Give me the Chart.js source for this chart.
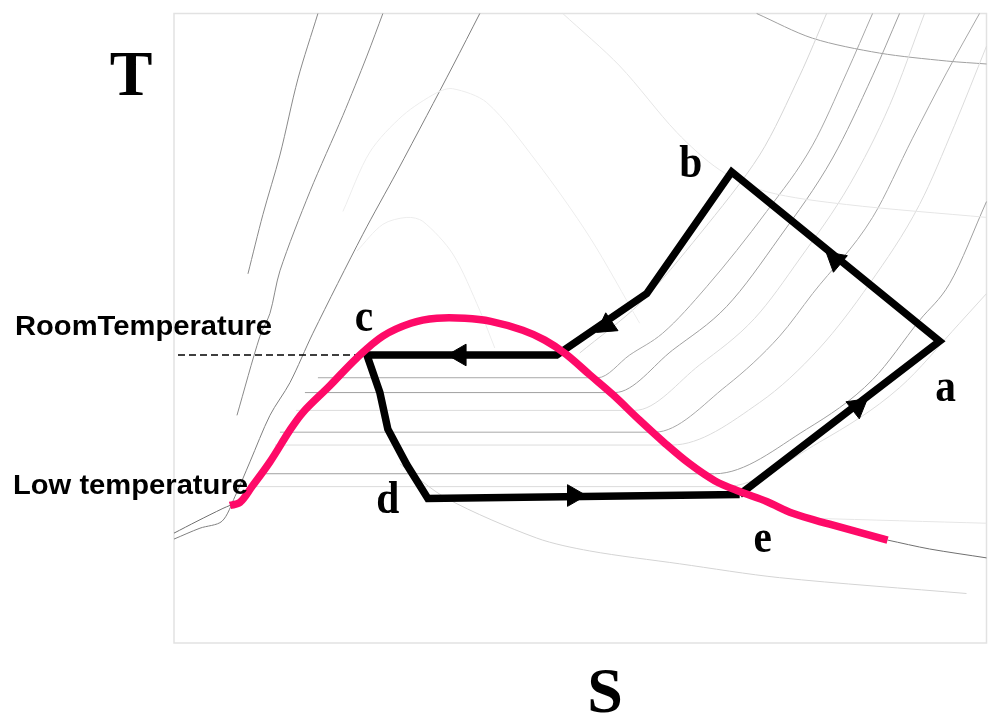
<!DOCTYPE html>
<html>
<head>
<meta charset="utf-8">
<script src="https://cdn.jsdelivr.net/npm/chart.js@4.4.0/dist/chart.umd.min.js"></script>
<style>
  html, body { margin: 0; padding: 0; background: #fff; }
</style>
</head>
<body>
<canvas id="ts-chart" width="1000" height="728"></canvas>
<script>
// T-S diagram of a refrigeration cycle (arbitrary units)
const sMax = 81.3;
const tMax = 63.6;

const roomT = 29.1;  // dashed line level
const lowT = 15.0;   // evaporator level

// refrigerant cycle: e -> a -> b -> c -> d -> e
const cycleS = [56.6, 76.6, 55.8, 47.3, 38.3, 19.3, 20.6, 21.4, 23.3, 25.4, 56.6];
const cycleT = [15.0, 30.5, 47.6, 35.3, 29.1, 29.1, 25.3, 21.6, 18.0, 14.6, 15.0];

const pointNames = ["a", "b", "c", "d", "e"];
const pointS = [76.6, 55.8, 19.3, 25.4, 56.6];
const pointT = [30.5, 47.6, 29.1, 14.6, 15.0];

// arrows on the cycle (position + direction in degrees)
const arrowS = [28.6, 43.3, 66.2, 68.4, 40.0];
const arrowT = [29.1, 32.1, 38.7, 23.9, 14.9];
const arrowDir = [-90, -124.6, -50, 52, 90];

// saturation dome (pink)
const satS = [5.6, 6.6, 7.8, 9.6, 11.6, 12.9, 15.6, 18.3, 20.9, 23.7, 26.3, 29.1, 31.7, 34.9, 37.1, 39.2, 41.6, 43.9, 46.6, 49.1, 51.6, 54.1, 56.6, 59.3, 61.9, 65.6, 71.4];
const satT = [13.9, 14.2, 15.8, 18.3, 21.5, 23.3, 26.0, 28.8, 31.0, 32.3, 32.8, 32.8, 32.5, 31.6, 30.6, 29.2, 27.1, 25.1, 22.5, 20.2, 18.1, 16.4, 15.3, 14.3, 13.1, 12.0, 10.4];

// background chart lines
const liquid1 = [[14.4, 63.6], [12.4, 57.0], [10.6, 49.3], [8.9, 43.3], [7.4, 37.3]];
const liquid2 = [[20.9, 63.6], [19.3, 59.3], [16.9, 53.3], [13.6, 45.6], [10.6, 37.6], [9.6, 33.3], [8.6, 31.0], [6.3, 23.0]];
const liquid3 = [[30.6, 63.6], [27.9, 58.3], [25.3, 53.3], [22.3, 47.6], [18.9, 41.3], [13.9, 31.3], [11.6, 26.3], [9.6, 23.0], [7.6, 18.3], [6.1, 14.8], [4.8, 12.3], [2.6, 11.6], [0, 10.5]];
const liquid4 = [[0, 11.1], [2.3, 12.3], [4.9, 13.6], [5.6, 13.9]];
const vaporTail = [[71.4, 10.4], [75.6, 9.5], [81.3, 8.6]];
const topCurve = [[58.3, 63.6], [63.9, 61.1], [70.6, 59.6], [77.3, 58.8], [81.3, 58.5]];

const isobar1 = [[14.4, 26.8], [42.4, 26.8], [45.6, 29.1], [48.9, 31.3], [53.3, 36.0], [59.3, 43.6], [63.9, 50.3], [67.3, 57.6], [69.9, 63.6]];
const isobar2 = [[13.1, 25.3], [44.1, 25.3], [49.9, 29.6], [55.3, 34.0], [60.6, 41.0], [65.9, 49.0], [69.9, 57.3], [72.6, 63.6]];
const isobar3 = [[10.6, 21.3], [48.1, 21.3], [55.3, 26.0], [60.6, 31.0], [63.9, 35.3], [69.9, 43.0], [73.9, 51.0], [77.3, 57.6], [80.6, 63.6]];
const isobar4 = [[8.8, 17.1], [54.1, 17.1], [63.3, 21.6], [69.9, 26.6], [74.6, 32.6], [77.6, 36.3], [81.3, 44.6]];

const lightIso1 = [[12.2, 23.5], [46.1, 23.5], [52.6, 28.1], [58.1, 32.8], [62.6, 38.8], [67.6, 46.3], [71.6, 54.3], [75.1, 63.6]];
const lightIso2 = [[10.1, 20.0], [49.8, 20.0], [58.6, 24.3], [64.6, 29.8], [69.6, 36.3], [74.6, 44.3], [78.1, 52.3], [81.3, 60.3]];
const lightIso3 = [[8.1, 15.8], [55.1, 15.8], [64.6, 20.3], [72.6, 25.8], [78.6, 32.3], [81.3, 35.3]];
const lightIso4 = [[40.6, 29.3], [46.6, 34.3], [52.6, 41.3], [58.6, 49.3], [62.6, 57.3], [65.3, 63.6]];

const faintDome1 = [[16.9, 43.6], [19.6, 49.6], [22.9, 53.3], [26.3, 55.6], [27.9, 56.0], [31.3, 54.6], [36.3, 48.6], [41.6, 41.0], [46.6, 32.3]];
const faintDome2 = [[18.3, 39.6], [20.9, 42.3], [23.3, 43.0], [24.9, 42.6], [27.9, 39.3], [30.6, 33.6], [32.1, 29.8]];
const faintVol = [[38.9, 63.6], [44.6, 58.3], [50.3, 51.6], [54.6, 47.8], [59.3, 45.6], [67.3, 44.3], [81.3, 43.0]];
const bottomCurve = [[22.6, 18.1], [27.3, 14.6], [36.3, 10.6], [41.6, 9.3], [50.6, 8.0], [60.6, 6.6], [79.3, 5.0]];
const lowFaint = [[63.9, 12.6], [81.3, 12.1]];

function pairs(list) {
  return list.map(p => ({ x: p[0], y: p[1] }));
}
function zipST(s, t) {
  return s.map((v, i) => ({ x: v, y: t[i] }));
}
function grayLine(list, color, smooth) {
  const ds = {
    data: pairs(list),
    showLine: true,
    borderColor: color,
    borderWidth: 1,
    pointRadius: 0,
    tension: 0.3,
    order: 10
  };
  if (smooth === "mono") ds.cubicInterpolationMode = "monotone";
  return ds;
}

const bgLines = [
  grayLine(faintDome1, "#ededed"),
  grayLine(faintDome2, "#ededed"),
  grayLine(faintVol, "#e6e6e6"),
  grayLine(lowFaint, "#e6e6e6"),
  grayLine(bottomCurve, "#d4d4d4"),
  grayLine(lightIso1, "#dcdcdc", "mono"),
  grayLine(lightIso2, "#dcdcdc", "mono"),
  grayLine(lightIso3, "#dcdcdc", "mono"),
  grayLine(lightIso4, "#d6d6d6"),
  grayLine(isobar1, "#a8a8a8", "mono"),
  grayLine(isobar2, "#a0a0a0", "mono"),
  grayLine(isobar3, "#a8a8a8", "mono"),
  grayLine(isobar4, "#a0a0a0", "mono"),
  grayLine(topCurve, "#a0a0a0"),
  grayLine(liquid1, "#8a8a8a"),
  grayLine(liquid2, "#8a8a8a"),
  grayLine(liquid3, "#808080"),
  grayLine(liquid4, "#707070"),
  grayLine(vaporTail, "#707070")
];

// frame and text drawn around the plot
const framePlugin = {
  id: "frame",
  beforeDatasetsDraw(chart) {
    const { ctx, chartArea: a } = chart;
    ctx.save();
    ctx.strokeStyle = "#e2e2e2";
    ctx.lineWidth = 1.5;
    ctx.strokeRect(a.left, a.top, a.right - a.left, a.bottom - a.top);
    ctx.restore();
  },
  afterDatasetsDraw(chart) {
    const { ctx, scales } = chart;
    const xs = scales.x, ys = scales.y;
    ctx.save();
    ctx.fillStyle = "#000";

    // axis letters
    ctx.font = "bold 64px 'Liberation Serif', 'Times New Roman', serif";
    ctx.textAlign = "center";
    ctx.textBaseline = "alphabetic";
    ctx.fillText("T", 131, 95);
    ctx.fillText("S", 605, 712);

    // cycle point names
    const offs = { a: [6, 60], b: [-41, 5], c: [-3, -24], d: [-40, 15], e: [23, 57] };
    ctx.font = "bold 46px 'Liberation Serif', 'Times New Roman', serif";
    pointNames.forEach((name, i) => {
      const px = xs.getPixelForValue(pointS[i]) + offs[name][0];
      const py = ys.getPixelForValue(pointT[i]) + offs[name][1];
      ctx.save();
      ctx.translate(px, py);
      ctx.scale(0.9, 1);
      ctx.fillText(name, 0, 0);
      ctx.restore();
    });

    // temperature labels
    ctx.font = "bold 27px 'Liberation Sans', Arial, sans-serif";
    ctx.textAlign = "left";
    const drawWide = (txt, x, y) => {
      ctx.save();
      ctx.translate(x, y);
      ctx.scale(1.08, 1);
      ctx.fillText(txt, 0, 0);
      ctx.restore();
    };
    drawWide("RoomTemperature", 15, ys.getPixelForValue(roomT) - 20);
    drawWide("Low temperature", 13, ys.getPixelForValue(lowT) - 1);
    ctx.restore();
  }
};

const ctx = document.getElementById("ts-chart").getContext("2d");

new Chart(ctx, {
  type: "scatter",
  data: {
    datasets: [
      {
        label: "saturation",
        data: zipST(satS, satT),
        showLine: true,
        borderColor: "#fe0a68",
        borderWidth: 7.5,
        borderCapStyle: "butt",
        pointRadius: 0,
        tension: 0.35,
        order: 1
      },
      {
        label: "arrows",
        data: zipST(arrowS, arrowT),
        showLine: false,
        pointStyle: "triangle",
        pointRadius: 12.5,
        rotation: arrowDir,
        backgroundColor: "#000",
        borderColor: "#000",
        borderWidth: 1,
        order: 2
      },
      {
        label: "cycle",
        data: zipST(cycleS, cycleT),
        showLine: true,
        borderColor: "#000",
        borderWidth: 7.5,
        borderJoinStyle: "miter",
        pointRadius: 0,
        tension: 0,
        order: 3
      },
      {
        label: "room",
        data: [{ x: 0.4, y: roomT }, { x: 18.8, y: roomT }],
        showLine: true,
        borderColor: "#000",
        borderWidth: 1.5,
        borderDash: [7, 4],
        pointRadius: 0,
        order: 4
      },
      ...bgLines
    ]
  },
  options: {
    responsive: false,
    animation: false,
    devicePixelRatio: 1,
    layout: { padding: { left: 174, top: 7, right: 13, bottom: 85 } },
    plugins: {
      legend: { display: false },
      tooltip: { enabled: false }
    },
    scales: {
      x: { type: "linear", min: 0, max: sMax, display: false },
      y: { type: "linear", min: 0, max: tMax, display: false }
    },
    clip: false
  },
  plugins: [framePlugin]
});
</script>
</body>
</html>
